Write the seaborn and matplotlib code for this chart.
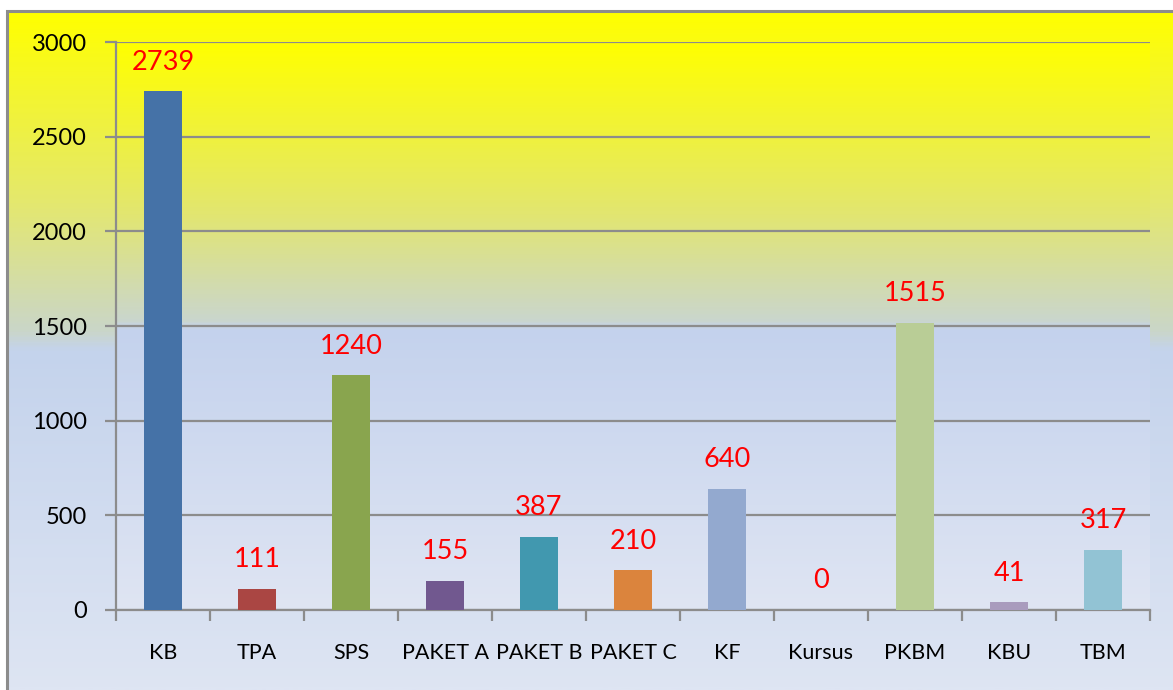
import numpy as np
import pandas as pd
import matplotlib
matplotlib.use("Agg")
import matplotlib.pyplot as plt
from matplotlib.colors import LinearSegmentedColormap
from matplotlib.patches import Rectangle
import seaborn as sns

categories = ["KB", "TPA", "SPS", "PAKET A", "PAKET B", "PAKET C", "KF", "Kursus", "PKBM", "KBU", "TBM"]
values = [2739, 111, 1240, 155, 387, 210, 640, 0, 1515, 41, 317]
y_ticks = [0, 500, 1000, 1500, 2000, 2500, 3000]

palette = ["#4572A7", "#AA4643", "#89A54E", "#71588F", "#4198AF", "#DB843D",
           "#93A9CF", "#BBBBBB", "#B9CD96", "#A99BBD", "#92C3D4"]

sns.set_theme(style="white")
plt.rcParams['font.family'] = ['Lato', 'DejaVu Sans']

W, H = 1173, 690
fig = plt.figure(figsize=(W / 100, H / 100), dpi=100)
fig.patch.set_facecolor("white")

def grad_cmap(stops):
    return LinearSegmentedColormap.from_list(
        "g", [(p, tuple(c / 255 for c in rgb)) for p, rgb in stops])

# outer chart-area gradient (top -> bottom)
outer = grad_cmap([(0.0, (255, 255, 0)), (0.28, (228, 232, 110)),
                   (0.47, (202, 214, 200)), (0.50, (196, 211, 236)),
                   (1.0, (222, 229, 243))])
bx0, by_top = 7, 11
bg = fig.add_axes([bx0 / W, 0, 1 - bx0 / W, 1 - by_top / H], zorder=-2)
bg.imshow(np.linspace(0, 1, 400).reshape(-1, 1), aspect="auto", cmap=outer,
          extent=[0, 1, 0, 1], origin="upper")
bg.axis("off")
fig.patches.append(Rectangle((bx0 / W, -0.1), 1.2, 1 - by_top / H + 0.1,
                             transform=fig.transFigure, fill=False,
                             edgecolor="#8C8C8C", linewidth=2.2, zorder=5))

# plot-area gradient
left, right, top, bottom = 116, 1150, 42, 610
pos = [left / W, 1 - bottom / H, (right - left) / W, (bottom - top) / H]
inner = grad_cmap([(0.0, (255, 255, 0)), (0.30, (226, 230, 112)),
                   (0.49, (202, 214, 205)), (0.505, (196, 210, 237)),
                   (1.0, (223, 229, 243))])
pbg = fig.add_axes(pos, zorder=-1)
pbg.imshow(np.linspace(0, 1, 400).reshape(-1, 1), aspect="auto", cmap=inner,
           extent=[0, 1, 0, 1], origin="upper")
pbg.axis("off")

ax = fig.add_axes(pos, zorder=1)
ax.set_facecolor("none")

df = pd.DataFrame({"cat": categories, "val": values})
sns.barplot(data=df, x="cat", y="val", hue="cat", palette=palette,
            legend=False, width=0.405, saturation=1, linewidth=0,
            ax=ax, zorder=3)

ax.set_ylim(0, 3000)
ax.set_xlim(-0.5, len(categories) - 0.5)
ax.set_yticks(y_ticks)
ax.set_yticklabels([str(t) for t in y_ticks], fontsize=17)
ax.yaxis.grid(True, color="#8C8C8C", linewidth=1.6, zorder=1)
ax.set_axisbelow(True)

# x ticks: marks at boundaries, labels at centres
ax.set_xticks(np.arange(-0.5, len(categories)), minor=False)
ax.set_xticklabels([""] * (len(categories) + 1))
ax.set_xticks(np.arange(len(categories)), minor=True)
ax.set_xticklabels(categories, minor=True, fontsize=15.5)
ax.tick_params(axis="x", which="major", direction="out", length=8, width=1.6,
               color="#8C8C8C", bottom=True)
ax.tick_params(axis="x", which="minor", length=0, pad=24, labelcolor="black", bottom=True)
ax.tick_params(axis="y", direction="out", length=8, width=1.6, color="#8C8C8C",
               pad=13, left=True, labelcolor="black")

for s in ["top", "right"]:
    ax.spines[s].set_visible(False)
for s in ["left", "bottom"]:
    ax.spines[s].set_color("#8C8C8C")
    ax.spines[s].set_linewidth(1.6)

ax.set_xlabel("")
ax.set_ylabel("")

for i, v in enumerate(values):
    ax.annotate(str(v), (i, v), xytext=(0, 12), textcoords="offset points",
                ha="center", va="bottom", color="red", fontsize=19.5)

fig.savefig("out.png", dpi=100)
